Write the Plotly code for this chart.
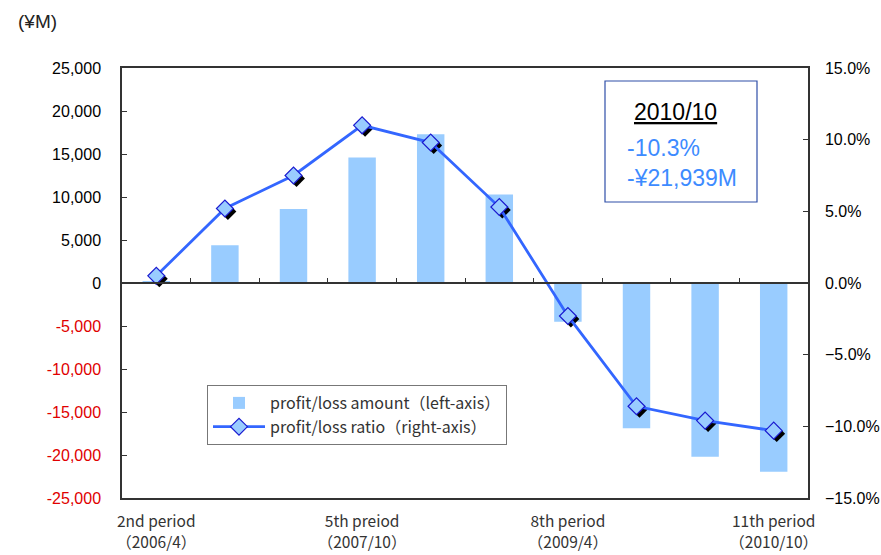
import plotly.graph_objects as go

# ---- data ----
periods = ["2nd period", "3rd period", "4th period", "5th preiod", "6th period",
           "7th period", "8th period", "9th period", "10th period", "11th period"]
dates = ["2006/4", "2006/10", "2007/4", "2007/10", "2008/4",
         "2008/10", "2009/4", "2009/10", "2010/4", "2010/10"]
labelled = ["2nd period", "5th preiod", "8th period", "11th period"]
amount = [200, 4400, 8600, 14600, 17300, 10300, -4500, -16900, -20200, -21939]   # ¥M
ratio = [0.5, 5.2, 7.5, 11.0, 9.8, 5.3, -2.3, -8.6, -9.6, -10.3]                # %
left_ticks = [25000, 20000, 15000, 10000, 5000, 0, -5000, -10000, -15000, -20000, -25000]
right_ticks = [15, 10, 5, 0, -5, -10, -15]

W, H = 881, 555
ML, MR, MT, MB = 122, 73, 68, 57
PW, PH = W - ML - MR, H - MT - MB

def px_x(px):
    return (px - ML) / PW

def px_y(py):
    return (H - MB - py) / PH

BAR = "#99CCFF"
LINE = "#3366FF"
FRAME = "#333333"
NUM_FONT = "Liberation Sans, Arial, sans-serif"
JP_FONT = "Noto Sans CJK JP, sans-serif"

# category tick text: only selected periods carry a label
ticktext = [f"{p}<br>（{d}）" if p in labelled else "" for p, d in zip(periods, dates)]

left_text = [f"{v:,}" if v >= 0 else f"<span style='color:#E00000'>-{abs(v):,}</span>"
             for v in left_ticks]
right_text = [f"{v:.1f}%" if v >= 0 else f"−{abs(v):.1f}%" for v in right_ticks]

# marker shadow offset (pixels, right / down)
sh = 3
sx = sh * len(periods) / PW
sy = sh * 30 / PH

fig = go.Figure()

fig.add_trace(go.Bar(
    x=periods, y=amount, name="profit/loss amount（left-axis）",
    marker=dict(color=BAR, line=dict(width=0)), width=0.4,
    xaxis="x", yaxis="y",
))

fig.add_trace(go.Scatter(
    x=periods, y=ratio, mode="markers", showlegend=False, hoverinfo="skip",
    marker=dict(symbol="diamond", size=13, color="black", line=dict(width=0)),
    xaxis="x2", yaxis="y2",
))

fig.add_trace(go.Scatter(
    x=periods, y=ratio, mode="lines+markers", name="profit/loss ratio（right-axis）",
    line=dict(color=LINE, width=2.8),
    marker=dict(symbol="diamond", size=13, color=BAR, line=dict(color="#1A1AD0", width=1.2)),
    xaxis="x3", yaxis="y3",
))

# summary box for the latest period
fig.add_shape(type="rect", xref="paper", yref="paper",
              x0=px_x(605), x1=px_x(757), y0=px_y(202), y1=px_y(81),
              line=dict(color="#2F4FA8", width=1.2), fillcolor="white", layer="above")
fig.add_annotation(xref="paper", yref="paper", x=px_x(675), y=px_y(112),
                   text=f"<u>{dates[-1]}</u>", showarrow=False, xanchor="center", yanchor="middle",
                   font=dict(family=NUM_FONT, size=23, color="black"))
fig.add_annotation(xref="paper", yref="paper", x=px_x(625), y=px_y(148),
                   text=f"{ratio[-1]:.1f}%", showarrow=False, xanchor="left", yanchor="middle",
                   font=dict(family=NUM_FONT, size=23, color="#3D8BFF"))
fig.add_annotation(xref="paper", yref="paper", x=px_x(625), y=px_y(178),
                   text=f"-¥{abs(amount[-1]):,}M", showarrow=False, xanchor="left", yanchor="middle",
                   font=dict(family=NUM_FONT, size=23, color="#3D8BFF"))

# unit label
fig.add_annotation(xref="paper", yref="paper", x=px_x(16), y=px_y(22),
                   text="(¥M)", showarrow=False, xanchor="left", yanchor="middle",
                   font=dict(family=NUM_FONT, size=19, color="#222"))

cat_range = [-0.5, len(periods) - 0.5]

fig.update_layout(
    width=W, height=H,
    margin=dict(l=ML, r=MR, t=MT, b=MB, pad=0, autoexpand=False),
    paper_bgcolor="white", plot_bgcolor="white",
    showlegend=True,
    legend=dict(x=px_x(207), y=px_y(385), xanchor="left", yanchor="top",
                bgcolor="white", bordercolor="#777777", borderwidth=1,
                font=dict(family=JP_FONT, size=16, color="#333"),
                itemwidth=52, tracegroupgap=2),
    xaxis=dict(type="category", categoryorder="array", categoryarray=periods,
               range=cat_range, tickvals=periods, ticktext=ticktext, ticks="",
               showline=True, mirror=True, linecolor=FRAME, linewidth=1.5,
               showgrid=False, zeroline=False, ticklabelstandoff=9, automargin=False,
               tickfont=dict(family=JP_FONT, size=15.5, color="#333")),
    xaxis2=dict(type="category", categoryorder="array", categoryarray=periods,
                overlaying="x", visible=False, automargin=False,
                range=[cat_range[0] - sx, cat_range[1] - sx]),
    xaxis3=dict(type="category", categoryorder="array", categoryarray=periods,
                overlaying="x", anchor="free", position=0.5, side="bottom",
                range=cat_range, tickson="boundaries", ticks="inside", ticklen=4,
                tickcolor=FRAME, showticklabels=False, showline=True, automargin=False,
                linecolor=FRAME, linewidth=1.5, showgrid=False, zeroline=False),
    yaxis=dict(range=[-25000, 25000], tickvals=left_ticks, ticktext=left_text,
               ticks="inside", ticklen=5, tickcolor=FRAME, automargin=False,
               showline=True, linecolor=FRAME, linewidth=1.5,
               showgrid=False, zeroline=False, ticklabelstandoff=16,
               tickfont=dict(family=NUM_FONT, size=16, color="black")),
    yaxis2=dict(overlaying="y", visible=False, range=[-15 + sy, 15 + sy], automargin=False),
    yaxis3=dict(overlaying="y", side="right", anchor="x3", range=[-15, 15],
                tickvals=right_ticks, ticktext=right_text, automargin=False,
                ticks="inside", ticklen=5, tickcolor=FRAME,
                showline=True, linecolor=FRAME, linewidth=1.5,
                showgrid=False, zeroline=False, ticklabelstandoff=12,
                tickfont=dict(family=NUM_FONT, size=16, color="black")),
)

fig.write_html("out.html")
